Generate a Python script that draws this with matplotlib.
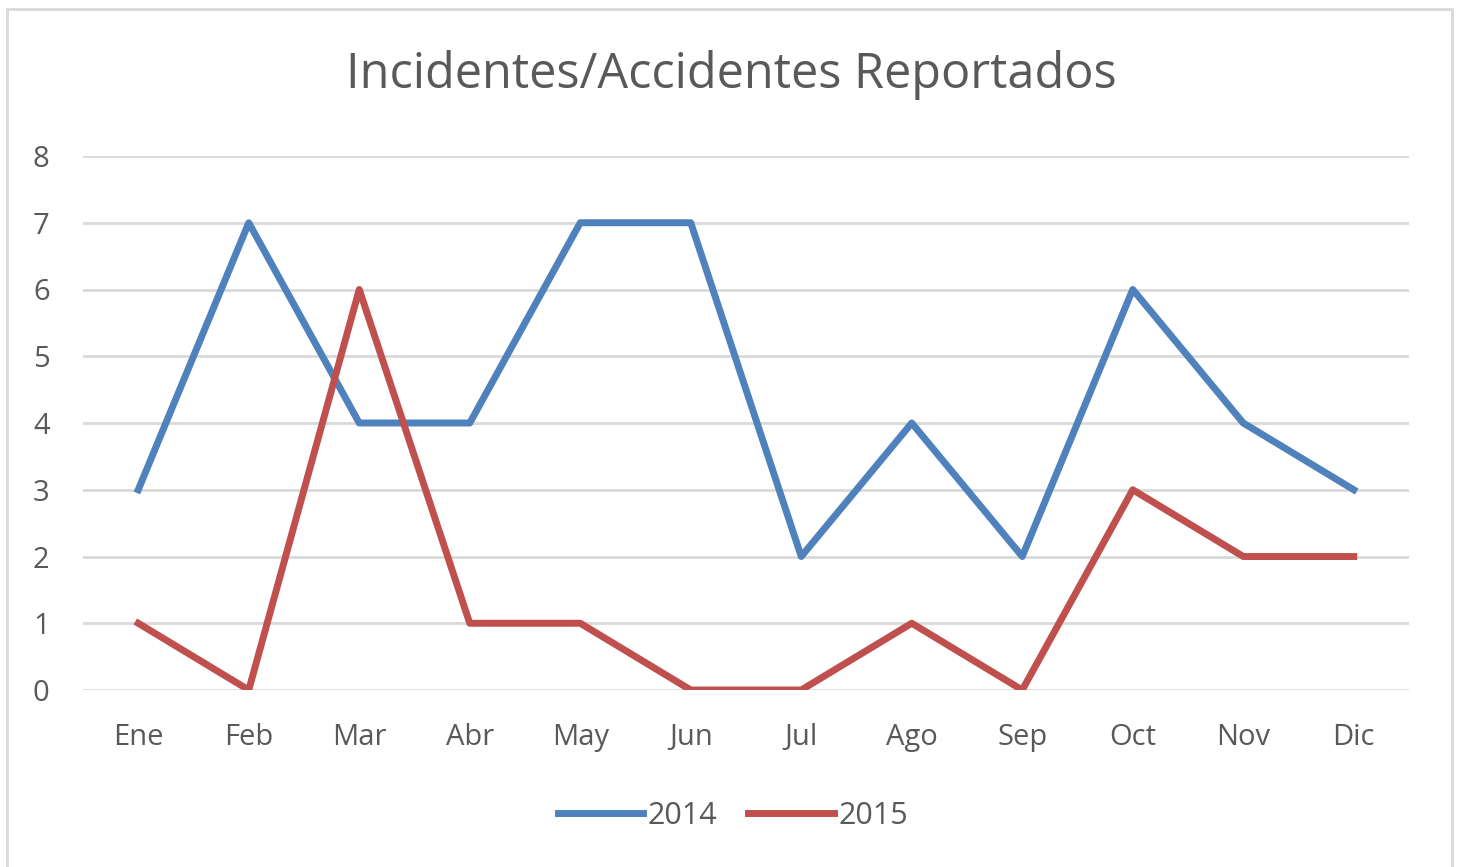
import matplotlib
matplotlib.use("Agg")
import matplotlib.pyplot as plt
from matplotlib.patches import Rectangle

months = ["Ene", "Feb", "Mar", "Abr", "May", "Jun", "Jul", "Ago", "Sep", "Oct", "Nov", "Dic"]
v2014 = [3, 7, 4, 4, 7, 7, 2, 4, 2, 6, 4, 3]
v2015 = [1, 0, 6, 1, 1, 0, 0, 1, 0, 3, 2, 2]
yticks = [0, 1, 2, 3, 4, 5, 6, 7, 8]

plt.rcParams['font.family'] = ['Open Sans', 'DejaVu Sans']
W, H = 1458, 867
fig = plt.figure(figsize=(W/100, H/100), dpi=100)
fig.patch.set_facecolor("white")

# outer border
fig.add_artist(Rectangle((7/W, -0.05), (1452-7)/W, 1.05 - 9/H, transform=fig.transFigure,
                         fill=False, edgecolor="#D9D9D9", linewidth=2))

ax = fig.add_axes([83/W, 1-690/H, (1409-83)/W, (690-156)/H])
x = list(range(len(months)))
ax.plot(x, v2014, color="#4F81BD", linewidth=5, solid_joinstyle="round", label="2014", zorder=3)
ax.plot(x, v2015, color="#C0504D", linewidth=5, solid_joinstyle="round", label="2015", zorder=3)
ax.set_xlim(-0.5, 11.5)
ax.set_ylim(0, 8)
ax.set_yticks(yticks)
ax.set_xticks(x)
ax.set_xticklabels(months)
ax.grid(axis="y", color="#D9D9D9", linewidth=2)
ax.set_axisbelow(True)
for s in ax.spines.values():
    s.set_visible(False)
ax.tick_params(length=0, labelsize=21, labelcolor="#595959")
ax.tick_params(axis="y", pad=30)
ax.tick_params(axis="x", pad=24)
for lbl in ax.get_yticklabels():
    lbl.set_horizontalalignment("center")

fig.text(731/W, 1-75/H, "Incidentes/Accidentes Reportados", ha="center", va="center",
         fontsize=35, color="#595959")

leg = fig.legend(loc="center", bbox_to_anchor=(733/W, 1-816/H), ncol=2, frameon=False,
                 fontsize=22, handlelength=2.8, handletextpad=0.15, columnspacing=1.0,
                 labelcolor="#595959")

fig.savefig("out.png", dpi=100)
